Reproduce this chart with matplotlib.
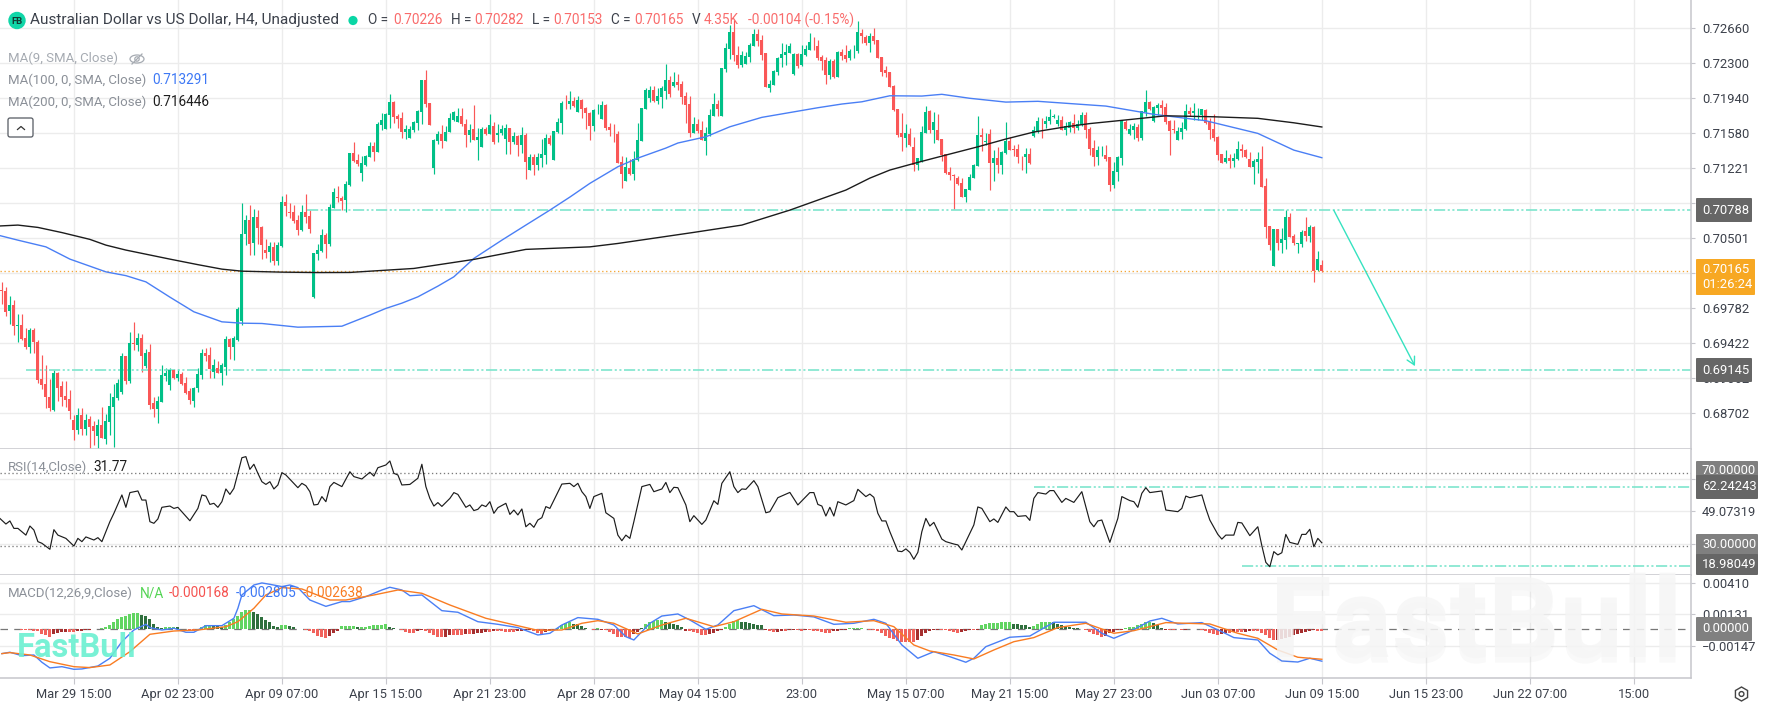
import numpy as np
import matplotlib
matplotlib.use("Agg")
import matplotlib.pyplot as plt
import matplotlib.patheffects as pe
from matplotlib.patches import FancyBboxPatch, Circle, Ellipse, RegularPolygon

plt.rcParams['font.family'] = ['Roboto', 'DejaVu Sans']

W, H = 1771, 708

# H4 candles, prices in units of 0.00001
opens = [
    69967,69957,69755,69813,69600,69607,69473,69377,69556,69432,
    69051,69000,68866,68739,69117,68979,68877,68846,68630,68527,
    68681,68537,68640,68568,68465,68578,68434,68609,68763,68856,
    68918,69288,69031,69422,69401,69473,69185,69329,68804,68743,
    68815,69082,68990,69144,69062,69103,69010,68928,68825,68959,
    69093,69319,69298,69123,69165,69113,69175,69463,69381,69453,
    69650,70544,70688,70451,70718,70616,70379,70358,70410,70266,
    70420,70873,70770,70770,70688,70585,70770,70729,69895,70338,
    70369,70533,70441,70811,70924,70914,70893,71048,71377,71305,
    71171,71254,71336,71449,71387,71665,71624,71768,71902,71758,
    71737,71593,71531,71614,71686,71799,72128,71892,71223,71501,
    71572,71501,71593,71717,71696,71758,71675,71562,71624,71511,
    71439,71624,71572,71655,71562,71583,71521,71634,71490,71552,
    71459,71562,71202,71336,71254,71326,71357,71531,71305,71593,
    71686,71892,71881,71912,71799,71922,71840,71789,71655,71819,
    71727,71871,71645,71572,71572,71284,71089,71223,71161,71305,
    71500,71830,71943,72025,71912,71953,72015,72128,72066,72108,
    72087,71964,71881,71583,71675,71614,71500,71573,71758,71881,
    71758,72241,72447,72622,72385,72283,72293,72365,72478,72601,
    72540,72406,72046,72077,72210,72355,72385,72406,72190,72396,
    72283,72385,72437,72519,72478,72365,72334,72180,72324,72159,
    72416,72385,72355,72433,72426,72612,72571,72509,72581,72540,
    72365,72231,72210,72066,71830,71583,71531,71572,71439,71253,
    71284,71583,71809,71614,71614,71521,71367,71181,71151,71120,
    71068,70924,70996,71120,71243,71562,71490,71572,71274,71326,
    71253,71377,71500,71418,71418,71346,71336,71367,71552,71593,
    71696,71675,71706,71751,71675,71716,71614,71634,71686,71634,
    71665,71768,71624,71428,71336,71415,71356,71336,71048,71181,
    71325,71696,71572,71614,71644,71531,71799,71902,71706,71840,
    71871,71850,71706,71624,71511,71593,71624,71809,71788,71806,
    71768,71819,71706,71624,71541,71367,71284,71325,71295,71315,
    71418,71408,71315,71233,71284,71315,71037,70626,70214,70595,
    70451,70482,70718,70523,70440,70440,70574,70523,70615,70173,70226,
]
closes = [
    69960,69744,69813,69597,69607,69460,69377,69556,69432,69041,
    68990,68866,68750,69117,68959,68866,68835,68722,68527,68681,
    68537,68630,68557,68516,68578,68444,68619,68774,68866,69010,
    69288,69031,69422,69415,69473,69288,69316,68784,68743,68825,
    69093,69113,69144,69062,69103,69000,68907,68835,68959,69103,
    69319,69288,69154,69195,69113,69195,69463,69381,69473,69772,
    70543,70688,70441,70718,70605,70430,70348,70420,70266,70430,
    70873,70832,70763,70677,70585,70770,70718,70595,70348,70379,
    70533,70441,70821,70976,70917,70883,71058,71377,71295,71264,
    71274,71346,71449,71387,71675,71717,71778,71902,71747,71727,
    71593,71624,71624,71696,71809,72128,71881,71665,71511,71572,
    71501,71593,71737,71799,71758,71675,71562,71614,71511,71542,
    71624,71573,71665,71490,71583,71624,71634,71490,71552,71459,
    71562,71284,71336,71254,71336,71367,71531,71470,71603,71696,
    71892,71888,71912,71861,71922,71830,71789,71655,71819,71823,
    71871,71634,71614,71569,71274,71161,71233,71161,71315,71511,
    71840,72025,72025,71912,71963,72046,72128,71984,72108,72077,
    71953,71871,71583,71675,71603,71511,71583,71768,71881,71830,
    72252,72457,72622,72385,72283,72385,72375,72488,72601,72529,
    72385,72056,72087,72221,72355,72396,72416,72478,72396,72272,
    72396,72447,72519,72516,72355,72324,72180,72324,72159,72416,
    72375,72344,72426,72437,72622,72581,72509,72581,72529,72355,
    72210,72200,72056,71819,71562,71542,71583,71459,71253,71326,
    71593,71799,71614,71696,71511,71356,71171,71151,71140,71058,
    70924,71007,71130,71253,71562,71542,71500,71274,71326,71253,
    71387,71500,71408,71408,71336,71343,71367,71274,71614,71706,
    71692,71706,71747,71758,71716,71614,71655,71696,71634,71675,
    71768,71614,71418,71336,71408,71421,71315,71048,71192,71336,
    71716,71624,71624,71655,71531,71809,71902,71830,71850,71871,
    71840,71696,71603,71617,71603,71634,71809,71778,71809,71809,
    71830,71686,71614,71531,71356,71274,71325,71295,71325,71418,
    71397,71336,71233,71295,71315,71027,70615,70430,70595,70451,
    70492,70718,70512,70451,70451,70564,70523,70615,70163,70286,70165,
]
highs = [
    70046,69995,69905,69864,69720,69717,69573,69573,69573,69453,
    69295,69192,69058,69144,69127,69034,69031,68938,68681,68750,
    68750,68695,68674,68619,68640,68763,68698,68914,68997,69048,
    69316,69288,69535,69641,69521,69514,69357,69412,68866,68877,
    69195,69161,69171,69154,69158,69123,69069,68959,68973,69161,
    69357,69370,69381,69254,69237,69213,69494,69473,69494,69789,
    70862,70739,70842,70801,70790,70626,70492,70465,70461,70465,
    70935,70952,70859,70842,70739,70838,70952,70790,70348,70441,
    70595,70554,70852,71017,71034,70935,71089,71377,71490,71367,
    71346,71356,71490,71490,71696,71789,71789,71984,71912,71778,
    71799,71665,71655,71706,71819,72128,72231,71892,71521,71603,
    71665,71655,71789,71809,71840,71840,71727,71675,71871,71634,
    71645,71645,71778,71696,71675,71665,71675,71634,71593,71562,
    71645,71583,71367,71367,71377,71521,71572,71562,71603,71737,
    71912,71974,72015,71953,71963,71933,71850,71799,71830,71881,
    71912,71881,71686,71675,71603,71346,71336,71315,71398,71686,
    71840,72046,72066,72066,72046,72066,72289,72169,72211,72190,
    72118,72005,71963,71747,71727,71706,71645,71830,71994,71922,
    72252,72509,72694,72746,72478,72426,72416,72509,72653,72653,
    72591,72406,72128,72231,72365,72509,72499,72509,72406,72406,
    72488,72488,72612,72571,72540,72385,72365,72344,72344,72426,
    72447,72488,72447,72488,72735,72653,72591,72612,72663,72540,
    72365,72272,72210,72077,71830,71789,71675,71634,71542,71326,
    71655,71861,71819,71799,71778,71521,71367,71233,71161,71140,
    71120,71007,71161,71264,71758,71634,71583,71624,71408,71439,
    71401,71692,71541,71459,71469,71346,71428,71428,71655,71747,
    71737,71758,71830,71778,71768,71758,71696,71706,71778,71716,
    71799,71799,71644,71511,71449,71449,71459,71336,71284,71346,
    71716,71716,71675,71686,71675,71809,72025,71912,71860,71891,
    71922,71891,71716,71716,71644,71696,71881,71850,71891,71840,
    71830,71830,71737,71778,71552,71367,71408,71367,71377,71500,
    71469,71418,71387,71315,71387,71449,71116,70626,70595,70595,
    70605,70790,70759,70543,70451,70585,70718,70636,70626,70368,70282,
]
lows = [
    69823,69700,69614,69504,69432,69453,69364,69316,69316,69014,
    68955,68750,68722,68722,68822,68774,68767,68640,68424,68485,
    68482,68475,68345,68372,68345,68444,68383,68475,68355,68835,
    68897,69000,69010,69350,69340,69127,69171,68743,68660,68599,
    68815,69031,68938,69058,69031,68990,68897,68794,68763,68918,
    69051,69237,69062,69062,69110,68990,69093,69257,69247,69442,
    69607,70430,70327,70327,70441,70286,70297,70255,70225,70225,
    70410,70729,70708,70657,70533,70574,70657,70554,69885,70276,
    70358,70297,70420,70811,70873,70790,70770,71037,71284,71243,
    71089,71243,71336,71295,71387,71614,71624,71634,71686,71634,
    71531,71521,71531,71593,71614,71675,71850,71665,71161,71470,
    71429,71501,71593,71706,71696,71655,71439,71490,71511,71305,
    71439,71562,71572,71470,71490,71562,71367,71367,71470,71346,
    71377,71109,71202,71151,71202,71233,71264,71459,71305,71583,
    71572,71830,71830,71850,71799,71737,71624,71511,71603,71778,
    71727,71614,71552,71490,71274,71017,71089,71151,71099,71295,
    71500,71830,71902,71902,71881,71840,71933,71953,72056,72025,
    71881,71686,71542,71583,71583,71511,71356,71552,71758,71758,
    71758,72210,72344,72324,72252,72262,72293,72313,72478,72478,
    72334,72056,72005,72077,72180,72262,72283,72406,72180,72252,
    72272,72375,72437,72437,72334,72231,72087,72138,72149,72159,
    72334,72313,72334,72355,72406,72509,72488,72416,72499,72355,
    72169,72159,72056,71809,71542,71398,71439,71449,71192,71202,
    71284,71583,71583,71480,71511,71295,71161,71099,70801,71048,
    70924,70873,70996,71120,71243,71398,71459,70996,71089,71171,
    71161,71367,71408,71346,71274,71202,71171,71264,71541,71583,
    71531,71634,71675,71737,71655,71614,71562,71593,71583,71614,
    71655,71531,71356,71243,71253,71346,71295,70986,71017,71089,
    71253,71614,71562,71521,71500,71511,71758,71819,71696,71768,
    71758,71675,71356,71583,71511,71521,71614,71758,71716,71716,
    71716,71675,71521,71500,71305,71274,71274,71222,71233,71305,
    71336,71325,71233,71058,71171,71027,70502,70379,70214,70379,
    70348,70389,70512,70430,70348,70410,70471,70461,70049,70163,70153,
]

# moving averages, read at their bends
ma100_bars = [-1,4,11,17,26,31,36,42,48,55,60,65,74,85,92,96,100,104,109,113,118,125,131,137,142,147,
              154,159,166,169,176,182,190,204,210,215,222,230,235,242,251,259,276,288,301,314,323,330]
ma100_vals = [70533,70481,70412,70286,70155,70116,70052,69895,69744,69641,69627,69624,69586,69596,
              69710,69779,69833,69898,70008,70104,70293,70481,70636,70790,70924,71065,71236,71325,
              71428,71480,71544,71647,71744,71843,71881,71904,71966,71963,71981,71940,71901,71909,
              71860,71775,71709,71579,71407,71329]
ma200_bars = [-1,4,9,15,22,26,31,42,49,55,60,70,79,87,103,118,131,147,154,161,173,185,197,204,211,217,
              222,229,236,244,251,258,266,272,279,291,303,314,323,330]
ma200_vals = [70626,70636,70612,70559,70489,70430,70379,70286,70229,70183,70162,70152,70148,70149,
              70190,70283,70386,70412,70447,70489,70561,70636,70790,70893,70996,71119,71202,71281,
              71356,71441,71521,71593,71647,71680,71709,71760,71750,71734,71688,71645]

rsi_bars = [-1,1,2,3,4,6,7,8,9,10,12,13,14,16,18,19,20,21,23,24,25,27,28,30,31,32,34,35,36,37,38,39,40,
            42,43,44,47,49,50,51,52,53,54,55,56,57,58,59,60,61,62,63,64,65,66,67,68,69,70,71,74,75,76,
            77,78,79,80,81,82,83,85,87,88,90,92,93,94,96,97,98,99,100,102,104,105,106,107,108,109,110,
            112,113,114,116,117,118,119,120,121,122,123,124,126,127,128,129,130,131,132,133,134,135,136,
            137,140,142,143,144,145,146,147,148,149,150,151,153,154,155,156,157,158,160,162,163,165,166,
            167,168,169,171,172,173,175,176,178,179,180,182,183,184,185,186,188,189,191,192,194,197,199,
            202,203,204,205,206,207,208,209,211,213,214,216,217,218,219,220,221,222,224,225,226,227,228,
            229,230,231,232,233,235,236,238,239,240,243,244,245,247,248,249,251,252,253,254,256,257,258,
            259,261,262,263,265,266,268,270,272,273,274,275,277,279,280,282,283,284,285,286,287,290,291,
            294,295,296,297,300,301,302,304,305,306,308,309,310,312,314,315,316,317,318,319,320,321,322,
            324,325,326,327,328,329,330]
rsi_vals = [46.2,42.1,43.8,39.7,39.7,36.0,41.0,38.8,32.4,31.5,28.2,39.0,36.0,34.2,30.0,34.2,32.4,35.0,33.3,
            34.6,32.4,43.4,48.0,58.1,51.3,59.4,60.3,55.3,55.3,43.4,42.5,44.9,51.3,52.0,50.7,51.3,43.9,50.7,
            58.1,57.5,52.9,53.5,51.3,54.4,61.4,58.4,61.7,70.0,78.6,79.2,72.2,75.0,70.0,65.4,63.9,65.4,61.4,
            63.6,70.4,69.1,62.1,64.5,63.2,59.9,52.6,52.9,57.2,54.4,62.7,65.0,62.7,70.9,68.2,66.9,70.6,68.5,
            73.1,74.6,76.8,70.0,69.1,63.6,63.9,67.3,75.0,62.7,56.2,52.0,53.9,51.8,56.2,59.4,58.4,51.3,52.6,
            49.5,50.2,52.6,51.7,54.4,48.0,51.1,53.5,47.4,49.8,47.1,50.4,40.6,42.5,40.3,44.3,45.6,51.7,50.7,
            64.1,64.5,62.7,64.5,59.9,57.2,50.7,57.2,58.1,59.0,48.3,45.2,36.0,32.9,36.0,34.2,43.4,62.7,63.9,
            59.9,61.4,65.0,59.4,62.3,62.1,52.6,43.4,46.7,41.9,44.3,54.9,52.9,64.5,70.9,62.7,59.4,61.4,61.2,
            66.0,62.7,48.3,48.9,56.6,59.5,52.6,59.4,59.4,52.9,52.0,46.5,51.3,46.5,54.4,52.6,55.0,61.2,57.2,
            58.6,56.8,48.0,43.8,43.8,37.9,27.2,26.9,28.4,26.5,22.7,26.5,37.9,45.2,41.0,43.0,33.8,32.4,31.1,
            30.6,27.8,41.6,51.5,50.7,43.4,44.9,43.0,51.5,48.9,48.9,46.3,46.7,44.1,56.2,59.4,58.6,60.5,60.5,
            54.0,56.2,54.0,59.9,43.4,40.6,43.8,44.3,32.0,45.2,57.2,55.0,54.4,51.3,59.0,62.1,59.4,60.3,49.8,
            48.9,50.7,57.5,56.6,58.1,50.7,44.3,36.4,33.8,36.0,36.0,43.0,42.7,35.7,40.6,30.2,21.0,18.6,26.9,
            25.1,26.3,36.4,32.0,30.9,36.4,36.4,39.2,29.6,34.2,31.77]

# MACD pane, units of 0.00001
macd_bars = [0,2,5,8,10,12,15,18,20,24,27,30,33,36,37,40,43,46,48,51,55,58,59,60,63,65,67,70,72,74,77,81,
             85,87,91,95,97,100,102,105,110,114,119,124,129,134,137,140,144,149,153,156,158,160,162,165,169,
             172,176,179,183,188,193,198,203,208,213,218,221,225,229,233,237,241,243,246,252,257,263,271,275,
             278,282,287,290,294,300,305,308,314,317,320,324,327,330]
macd_vals = [-214,-202,-232,-226,-290,-340,-329,-352,-349,-323,-255,-109,-6,44,15,-6,9,-26,-26,32,32,97,185,
             302,390,408,396,376,390,367,258,202,244,244,288,346,370,346,296,302,164,150,67,44,15,-50,-35,38,
             103,88,38,-65,-94,-21,53,117,135,82,0,38,164,208,120,126,109,44,53,88,53,-138,-255,-197,-241,-290,
             -255,-153,-70,-59,62,62,-35,-79,-21,73,97,47,59,-21,-73,-94,-211,-279,-288,-255,-280.5]
signal_bars = [0,2,7,12,18,22,27,32,37,43,49,56,59,63,66,70,75,82,86,93,99,105,112,121,131,134,140,145,149,
               153,159,165,171,178,183,190,195,203,211,218,223,228,232,238,243,248,253,258,264,271,278,283,
               291,296,302,309,314,319,324,330]
signal_vals = [-214,-205,-226,-285,-329,-337,-314,-197,-44,-15,-6,23,67,185,302,367,355,258,258,302,346,317,
               214,97,15,-9,-6,53,76,53,-41,38,97,23,67,176,135,117,62,76,23,-138,-191,-226,-261,-182,-109,
               -73,15,53,-35,-12,59,53,47,-35,-79,-182,-246,-263.8]
hist_vals = [
    3,6,3,0,3,-6,-9,-9,-12,-18,
    -39,-54,-66,-42,-30,-24,-21,-21,-27,-18,
    -12,-9,-6,3,6,12,21,42,66,90,
    108,120,135,144,144,126,120,90,48,21,
    15,21,21,21,18,6,3,-9,-15,0,
    24,36,36,33,27,24,36,66,90,120,
    156,171,171,150,132,105,84,60,30,24,
    36,42,30,24,3,0,-6,-15,-36,-60,
    -72,-78,-60,-36,-15,30,30,30,30,24,
    24,24,30,36,42,42,45,18,9,0,
    -6,-21,-30,-30,-18,-9,-18,-36,-54,-66,
    -72,-66,-54,-54,-54,-54,-45,-45,-42,-36,
    -30,-24,-24,-18,-18,-18,-24,-24,-24,-18,
    -12,-9,-6,-12,-36,-42,-24,-12,-6,15,
    42,54,60,51,48,30,12,6,-6,9,
    -3,-9,-24,-45,-66,-72,-72,-75,-45,-24,
    15,45,66,75,81,84,66,54,45,36,
    24,-12,-18,-24,-36,-48,-48,-45,-30,-15,
    -3,18,48,75,84,66,60,54,51,42,
    36,-9,-18,-27,-24,-12,-12,-9,-6,-9,
    -15,-9,-9,-15,-15,-27,-30,-36,-18,-15,
    -9,-3,9,9,9,12,3,-3,-9,-15,
    -30,-60,-75,-84,-99,-108,-114,-114,-114,-90,
    -60,-30,-18,-6,-3,-6,-9,-12,-21,-33,
    -27,-12,-6,-6,-3,36,45,54,57,57,
    60,60,60,51,45,39,36,24,30,48,
    60,66,66,60,51,39,30,24,15,9,
    6,-9,-24,-42,-51,-66,-60,-30,-24,-9,
    -3,9,18,24,36,48,60,60,54,36,
    15,-6,-9,-9,3,-6,-3,0,3,3,
    -3,-12,-30,-45,-51,-42,-30,-30,-24,-27,
    -27,-24,-18,-18,-18,-30,-54,-78,-96,-90,
    -84,-78,-66,-54,-42,-30,-24,-12,-9,-12,-17,
]

# axis ticks and level lines
price_ticks = [0.72660,0.72300,0.71940,0.71580,0.71221,0.70861,0.70501,0.70141,0.69782,0.69422,0.69062,0.68702]
price_labels = ['0.72660','0.72300','0.71940','0.71580','0.71221','','0.70501','','0.69782','0.69422','0.69062','0.68702']
rsi_grid = [66.9, 49.07319, 31.1]
macd_ticks = [0.00410, 0.00131, -0.00147]
date_bars = [18,44,70,96,122,148,174,200,226,252,278,304,330,356,382,408]
date_labels = ['Mar 29 15:00','Apr 02 23:00','Apr 09 07:00','Apr 15 15:00','Apr 21 23:00','Apr 28 07:00',
               'May 04 15:00','23:00','May 15 07:00','May 21 15:00','May 27 23:00','Jun 03 07:00',
               'Jun 09 15:00','Jun 15 23:00','Jun 22 07:00','15:00']
level_high, level_low, last_close = 0.70788, 0.69145, 0.70165
rsi_level_high, rsi_level_low = 62.24243, 18.98049

o = np.array(opens) / 1e5
c = np.array(closes) / 1e5
hi = np.array(highs) / 1e5
lo = np.array(lows) / 1e5
hist = np.array(hist_vals) / 1e5
bars = np.arange(len(o))

UP, DOWN = '#00c087', '#fa5757'
GRID, SEP = '#ececec', '#c6c6cc'
TEAL = '#78e4cb'
TEXT, MUTED = '#3c414b', '#8b9098'
LEVEL_DASH = (0, (7, 1.6, 1.3, 1.6, 1.3, 1.6))


def pane(top, bottom):
    a = fig.add_axes([0, 1 - bottom / H, 1691 / W, (bottom - top) / H])
    a.set_xlim(-0.475, 422.3)
    a.set_facecolor('white')
    a.set_xticks(date_bars)
    a.grid(True, axis='both', color=GRID, lw=1.0)
    a.set_axisbelow(True)
    a.yaxis.tick_right()
    a.tick_params(axis='y', length=3, color=SEP, labelsize=9.4, labelcolor=TEXT, pad=5)
    a.tick_params(axis='x', length=0, labelbottom=False)
    for s in ['left', 'top']:
        a.spines[s].set_visible(False)
    a.spines['right'].set_color(SEP)
    a.spines['bottom'].set_color(SEP)
    a.spines['right'].set_linewidth(1.1)
    a.spines['bottom'].set_linewidth(1.1)
    return a


fig = plt.figure(figsize=(W / 100, H / 100), dpi=100, facecolor='white')

# price pane
ax = pane(0, 449)
ax.set_ylim(0.68333, 0.72951)
ax.set_yticks(price_ticks)
ax.set_yticklabels(price_labels)
colors = np.where(c >= o, UP, DOWN)
ax.vlines(bars, lo, hi, colors=colors, lw=0.85, zorder=2)
ax.bar(bars, np.maximum(np.abs(c - o), 0.00003), bottom=np.minimum(o, c), width=0.72, color=colors, zorder=3)
ax.plot(ma100_bars, np.array(ma100_vals) / 1e5, color='#4a7ff5', lw=1.0, zorder=4)
ax.plot(ma200_bars, np.array(ma200_vals) / 1e5, color='#1c1c1c', lw=1.0, zorder=4)
ax.hlines(level_high, 76.3, 422.3, color=TEAL, lw=1.15, linestyles=[LEVEL_DASH], zorder=2.5)
ax.hlines(level_low, 6, 422.3, color=TEAL, lw=1.15, linestyles=[LEVEL_DASH], zorder=2.5)
ax.axhline(last_close, color='#f4a534', lw=0.95, ls=(0, (1, 2)), zorder=2.5)
ax.annotate('', xy=(353.3, 0.69185), xytext=(333, level_high),
            arrowprops=dict(arrowstyle='->,head_length=0.55,head_width=0.3', color='#35e2c0', lw=1.0,
                            shrinkA=0, shrinkB=0))

# RSI pane
ax_rsi = pane(449, 575)
ax_rsi.set_ylim(14.04, 83.4)
ax_rsi.set_yticks(rsi_grid)
ax_rsi.set_yticklabels(['', '49.07319', ''])
ax_rsi.plot(rsi_bars, rsi_vals, color='#1c1c1c', lw=0.85, zorder=4)
for lvl in (70, 30):
    ax_rsi.axhline(lvl, color='#7a7a7a', lw=0.95, ls=(0, (1, 2)), zorder=2)
ax_rsi.hlines(rsi_level_high, 258, 422.3, color=TEAL, lw=1.15, linestyles=[LEVEL_DASH], zorder=2.5)
ax_rsi.hlines(rsi_level_low, 310, 422.3, color=TEAL, lw=1.15, linestyles=[LEVEL_DASH], zorder=2.5)

# MACD pane
ax_macd = pane(575, 677.7)
ax_macd.set_ylim(-0.00426, 0.00478)
ax_macd.set_yticks(macd_ticks)
ax_macd.set_yticklabels(['0.00410', '0.00131', '\u22120.00147'])
prev = np.concatenate([[0.0], hist[:-1]])
grow = np.abs(hist) >= np.abs(prev)
hist_colors = np.where(hist >= 0, np.where(grow, '#62d562', '#2f6f3d'),
                       np.where(grow, '#f1625c', '#a62f2f'))
ax_macd.bar(bars, hist, width=0.72, color=hist_colors, zorder=2)
ax_macd.axhline(0, color='#777777', lw=0.9, ls=(0, (6, 5)), zorder=1.5)
ax_macd.plot(macd_bars, np.array(macd_vals) / 1e5, color='#4a7ff5', lw=1.0, zorder=4)
ax_macd.plot(signal_bars, np.array(signal_vals) / 1e5, color='#f97c22', lw=1.0, zorder=4)
ax_macd.tick_params(axis='x', length=4, color=SEP, labelbottom=True, labelsize=9.3, labelcolor=TEXT, pad=3.4)
ax_macd.set_xticklabels(date_labels)

# overlay in pixel coordinates for header text, tags and watermarks
top = fig.add_axes([0, 0, 1, 1], zorder=10)
top.set_xlim(0, W)
top.set_ylim(H, 0)
top.axis('off')
top.patch.set_alpha(0)


def label(x, y, s, color=TEXT, size=9.7, **kw):
    top.text(x, y, s, color=color, fontsize=size, va='center', ha=kw.pop('ha', 'left'), **kw)


def tag(x0, x1, y0, y1, face, text, alpha=1.0):
    top.add_patch(FancyBboxPatch((x0 + 1, y0 + 1), x1 - x0 - 2, y1 - y0 - 2, boxstyle='round,pad=1',
                                 fc=face, ec='none', alpha=alpha))
    label(x0 + 6, (y0 + y1) / 2, text, color='white', size=9.4)


# watermarks
top.text(1476, 626, 'FastBull', fontsize=81, fontweight='bold', ha='center', va='center', family='Roboto',
         color=(0.965, 0.965, 0.965, 0.86),
         path_effects=[pe.withSimplePatchShadow(offset=(0, -4), shadow_rgbFace='#999999', alpha=0.06)])
top.text(17, 648, 'FastBull', fontsize=23.5, fontweight='bold', ha='left', va='center', family='Roboto',
         color=(0.42, 0.94, 0.82, 0.9))

# symbol header
top.add_patch(Circle((17, 20.5), 8.7, fc='#10d6a8', ec='none'))
label(17, 21, 'FB', color='#123a33', size=6.8, ha='center', fontweight='bold')
label(30, 20, 'Australian Dollar vs US Dollar, H4, Unadjusted', size=11.1)
top.add_patch(Circle((353, 20.5), 4.6, fc='#0ad6a5', ec='none'))
RED = '#f96b6b'
for x, s, col in [(368.5, 'O =', TEXT), (393, '0.70226', RED), (451, 'H =', TEXT), (474, '0.70282', RED),
                  (532.5, 'L =', TEXT), (553.5, '0.70153', RED), (611, 'C =', TEXT), (634.5, '0.70165', RED),
                  (691.5, 'V', TEXT), (703.5, '4.35K', RED), (748, '-0.00104 (-0.15%)', RED)]:
    label(x, 20, s, color=col, size=9.8)

# indicator legends
label(8, 58, 'MA(9, SMA, Close)', color='#a6abb2', size=9.5)
top.add_patch(Ellipse((137, 59), 14, 8, fc='none', ec='#a6abb2', lw=0.9))
top.add_patch(Circle((137, 59), 2.2, fc='none', ec='#a6abb2', lw=0.9))
top.plot([132, 142], [64, 54], color='#a6abb2', lw=0.9)
label(8, 80, 'MA(100, 0, SMA, Close)', color=MUTED, size=9.5)
label(152, 80, '0.713291', color='#3d78f5', size=9.8)
label(8, 102, 'MA(200, 0, SMA, Close)', color=MUTED, size=9.5)
label(152, 102, '0.716446', color='#1c1c1c', size=9.8)
top.add_patch(FancyBboxPatch((10, 120), 21, 15, boxstyle='round,pad=2', fc='white', ec='#555a62', lw=0.9))
top.plot([17.5, 21, 24.5], [129.5, 126.5, 129.5], color='#333333', lw=0.9)
label(8, 467, 'RSI(14,Close)', color=MUTED, size=9.5)
label(93, 467, '31.77', color='#1c1c1c', size=9.8)
label(8, 593, 'MACD(12,26,9,Close)', color=MUTED, size=9.5)
label(140, 593, 'N/A', color='#54d454', size=9.8)
label(169, 593, '-0.000168', color='#f5524f', size=9.8)
label(236, 593, '-0.002805', color='#3d78f5', size=9.8)
label(303, 593, '-0.002638', color='#f97c22', size=9.8)

# value tags on the price scale
tag(1696, 1752, 198, 222, '#666666', '0.70788')
tag(1696, 1755, 259, 295, '#f7a823', '0.70165\n01:26:24')
tag(1696, 1752, 358, 382, '#666666', '0.69145')
tag(1696, 1758, 461, 486, '#808080', '')
label(1702, 471, '70.00000', color='white', size=9.4)
tag(1696, 1758, 475, 499, '#666666', '62.24243')
tag(1696, 1758, 534, 556, '#808080', '30.00000')
tag(1696, 1758, 554, 575, '#666666', '18.98049')
tag(1696, 1752, 617, 641, '#808080', '0.00000')

# settings gear
top.add_patch(RegularPolygon((1741.5, 694), 6, radius=7, fc='none', ec='#444444', lw=1.0))
top.add_patch(Circle((1741.5, 694), 2.4, fc='none', ec='#444444', lw=1.0))

fig.savefig('out.png', dpi=100)
